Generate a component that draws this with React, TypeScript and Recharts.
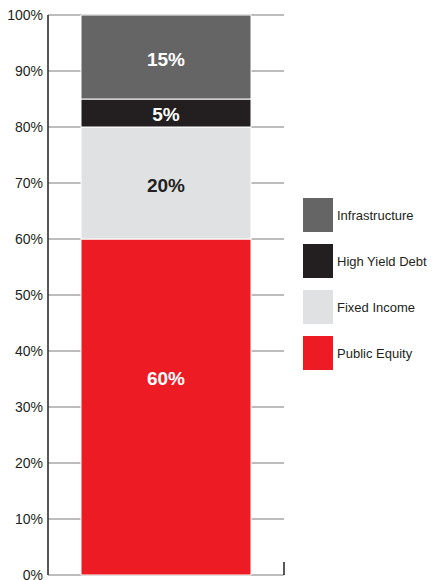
import { BarChart, Bar, XAxis, YAxis, CartesianGrid, LabelList, usePlotArea } from 'recharts';

const categories = ['Portfolio'];
const seriesNames = ['Public Equity', 'Fixed Income', 'High Yield Debt', 'Infrastructure'];
const seriesKeys = ['publicEquity', 'fixedIncome', 'highYieldDebt', 'infrastructure'];
const publicEquity = [60];
const fixedIncome = [20];
const highYieldDebt = [5];
const infrastructure = [15];
const yTicks = [0, 10, 20, 30, 40, 50, 60, 70, 80, 90, 100];

const colors = ['#ED1C24', '#E0E1E3', '#231F20', '#656565'];
const labelColors = ['#FFFFFF', '#231F20', '#FFFFFF', '#FFFFFF'];
const labelShift = [-29, 2, 1, 2];

const data = categories.map((name, i) => ({
  name,
  publicEquity: publicEquity[i],
  fixedIncome: fixedIncome[i],
  highYieldDebt: highYieldDebt[i],
  infrastructure: infrastructure[i],
}));

const FONT = '"Liberation Sans", Arial, Helvetica, sans-serif';

function RightTick() {
  const area = usePlotArea();
  if (!area) return null;
  const x = area.x + area.width;
  const y = area.y + area.height;
  return <line x1={x} y1={y - 13} x2={x} y2={y} stroke="#231F20" strokeWidth={1.5} />;
}

function LegendBox() {
  const order = [3, 2, 1, 0];
  return (
    <div style={{ position: 'absolute', top: 198, left: 303, fontFamily: FONT }}>
      {order.map(i => (
        <div key={seriesKeys[i]} style={{ display: 'flex', alignItems: 'center', height: 34, marginBottom: 12 }}>
          <div style={{ width: 30, height: 34, background: colors[i] }} />
          <span style={{ marginLeft: 4, fontSize: 13, color: '#231F20', whiteSpace: 'nowrap' }}>{seriesNames[i]}</span>
        </div>
      ))}
    </div>
  );
}

export default function App() {
  return (
    <div style={{ position: 'fixed', top: 0, left: 0, width: 436, height: 580, background: '#fff' }}>
      <BarChart
        width={436}
        height={580}
        data={data}
        margin={{ top: 15, right: 152, bottom: 5, left: 0 }}
        barSize={170}
      >
        <CartesianGrid vertical={false} stroke="#7A7A7A" strokeWidth={1} />
        <XAxis dataKey="name" tick={false} tickLine={false} height={0} axisLine={{ stroke: '#231F20', strokeWidth: 1.5 }} />
        <YAxis
          width={48}
          domain={[0, 100]}
          ticks={yTicks}
          interval={0}
          tickFormatter={(v: number) => `${v}%`}
          tickLine={false}
          tickSize={0}
          tickMargin={5}
          axisLine={{ stroke: '#231F20', strokeWidth: 1.5 }}
          tick={{ fontSize: 14, fill: '#231F20', fontFamily: FONT }}
        />
        {seriesKeys.map((k, i) => (
          <Bar key={k} dataKey={k} name={seriesNames[i]} stackId="a" fill={colors[i]} stroke="#FFFFFF" strokeWidth={1} isAnimationActive={false}>
            <LabelList
              dataKey={k}
              position="center"
              formatter={(v: number) => `${v}%`}
              content={(p: any) => (
                <text
                  x={p.x + p.width / 2}
                  y={p.y + p.height / 2 + labelShift[i]}
                  textAnchor="middle"
                  dominantBaseline="central"
                  fill={labelColors[i]}
                  fontSize={19}
                  fontWeight={700}
                  fontFamily={FONT}
                >
                  {`${p.value}%`}
                </text>
              )}
            />
          </Bar>
        ))}
        <RightTick />
      </BarChart>
      <LegendBox />
    </div>
  );
}
